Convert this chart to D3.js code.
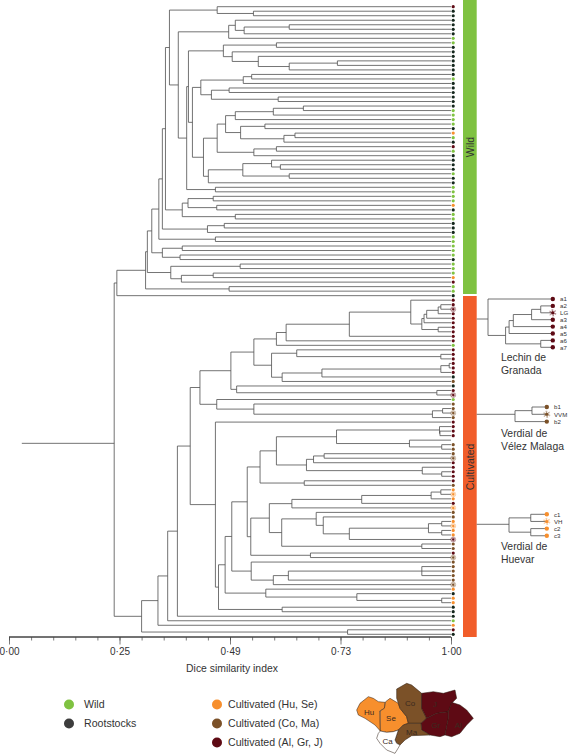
<!DOCTYPE html>
<html><head><meta charset="utf-8">
<script src="https://cdn.jsdelivr.net/npm/d3@7/dist/d3.min.js"></script>
<style>html,body{margin:0;padding:0;background:#fff}svg{display:block}text{font-family:"Liberation Sans",Arial,sans-serif;fill:#333}</style>
</head><body><svg id="c" width="571" height="755"></svg>
<script>
const K="K",W="W",O="O",B="B",M="M",N="N",Ms="M*",Bs="B*",Os="O*";
// Dendrogram: [similarity at merge, child, child...]; leaves are group codes (* = reference cultivar)
const wildTop=[.363,[.471,M,[.553,K,K]],[.383,[.497,[.512,K,[.532,[.634,K,K],K]],W],
 [.402,[.406,[.485,[.605,W,K],[.505,K,[.564,K,[.634,[.743,K,K],K]]]],
  [.415,[.434,[.530,[.549,K,W],K],[.458,[.498,K,K],[.609,K,K]]],
   [.440,[.471,[.490,[.512,[.598,[.666,K,W],W],W],[.524,[.579,W,K],[.622,[.647,O,W],K]]],[.554,[.605,M,W],K]],
    [.451,[.529,[.594,K,[.614,K,K]],[.634,W,K]],K]]]],[.467,W,W]]]];
const wild197=[.354,wildTop,[.392,[.405,[.462,W,W],[.470,O,K]],[.512,W,W]]];
const wild187=[.347,wild197,[.449,[.487,K,K],K]];
const wild177=[.339,wild187,[.467,W,W]];
const wild155=[.323,wild177,[.347,[.392,W,W],[.387,W,K]]];
const wild142=[.313,wild155,[.366,[.523,W,W],[.390,[.462,W,O],M]]];
const wild137=[.309,wild142,[.498,W,W]];
const wildClade=[.244,wild137,K];
const lechin=[.909,M,[.934,[.939,[.945,[.971,[.977,M,Ms],M],M],M],[.971,M,M]]];
const cult559=[.627,[.770,lechin,M],M];
const cult462=[.554,[.605,cult559,W],[.594,[.651,M,[.977,M,M]],[.618,[.708,[.977,[.996,M,M],M],K],B]]];
const cult392=[.502,cult462,[.515,K,[.968,M,Ms]]];
const cult300=[.432,cult392,[.470,W,[.554,B,[.958,[.981,B,Bs],B]]]];
const cult480=[.568,[.605,[.741,[.974,M,[.975,M,M]],[.906,N,[.979,B,B]]],
 [.673,[.689,[.713,B,Bs],M],[.935,M,[.979,M,M]]]],[.668,M,B]];
const cult575=[.640,[.798,[.955,[.977,O,Os],O],M],Os];
const cult545=[.617,[.695,B,[.711,B,[.770,[.949,[.979,O,Os],[.979,O,O]],Ms]]],[.934,B,B]];
const cult452=[.547,[.589,cult575,cult545],[.682,M,Bs]];
const cult454=[.548,B,[.598,[.632,[.934,B,B,B],B],Bs]];
const cult375=[.489,[.504,[.539,cult480,cult452],cult454],[.581,O,[.787,K,[.979,O,O]]]];
const cult346=[.467,M,[.474,cult375,[.618,K,K]]];
const cultClade=[.300,[.337,[.359,[.381,[.410,cult300,cult346],K],W],O],[.766,M,K]];
const rootTree=[.238,wildClade,cultClade];
const rootStemStart=.029;
const rootStemRowShift=-1.4;

const insetLechin=[.909,"a1",[.934,[.939,[.945,[.971,[.984,"a2","LG"],"a3"],"a4"],"a5"],[.984,"a6","a7"]]];
const insetVelez=[.958,[.981,"b1","VVM"],"b2"];
const insetHuevar=[.949,[.979,"c1","VH"],[.979,"c2","c3"]];
const insetColors={a:"#5e0a14",b:"#7b5128",c:"#f78f2d"};
const insetStars=["LG","VVM","VH"];

const groupColor={K:"#14261c",W:"#7fc241",O:"#f78f2d",B:"#7b5128",M:"#5e0a14"};
const majorTicks=[0,.25,.5,.75,1];
const majorLabels=["0·00","0·25","0·49","0·73","1·00"];
const minorTicks=d3.range(0,1.001,.05);
const legendLeft=[["Wild","#7fc241"],["Rootstocks","#3d3d3d"]];
const legendRight=[["Cultivated (Hu, Se)","#f78f2d"],["Cultivated (Co, Ma)","#7b5128"],["Cultivated (Al, Gr, J)","#5e0a14"]];
const orange="#f78f2d",brown="#7b5128",maroon="#5e0a14";
const regions=[
 ["Hu",orange,[[35,105],[45,85],[70,65],[85,70],[100,80],[120,82],[118,100],[104,108],[106,168],[90,150],[60,130],[40,120]],72,112],
 ["Se",orange,[[106,108],[118,100],[122,80],[135,70],[160,85],[165,100],[185,125],[190,145],[175,150],[160,165],[145,170],[125,172],[106,168]],138,130],
 ["Co",brown,[[155,42],[185,25],[200,30],[230,55],[230,100],[245,130],[228,145],[190,145],[185,125],[165,100],[160,85],[155,70]],195,85],
 ["J",maroon,[[230,55],[265,50],[295,55],[330,45],[335,70],[320,85],[310,110],[275,115],[245,130],[230,100]],270,88],
 ["Gr",maroon,[[245,130],[275,115],[310,110],[310,130],[300,180],[285,185],[255,180],[230,165],[228,145]],272,152],
 ["Al",maroon,[[320,82],[345,90],[365,105],[385,130],[365,150],[345,175],[320,185],[300,180],[310,130],[310,110]],340,152],
 ["Ma",brown,[[228,145],[230,165],[255,180],[200,182],[180,195],[165,210],[155,205],[150,195],[160,165],[175,150],[190,145]],200,172],
 ["Ca","#fff",[[100,175],[106,168],[125,172],[145,170],[160,165],[150,195],[155,205],[165,210],[150,235],[125,225],[105,205],[95,190]],128,200]
];

const svg=d3.select("#c");
const x=d3.scaleLinear().domain([0,1]).range([9,451]);
const line="#4f4f4f",lw=.8;

function build(tree){
  const h=d3.hierarchy(tree,d=>Array.isArray(d)?d.slice(1):null);
  h.leaves().forEach((l,i)=>l.idx=i);
  h.eachAfter(n=>{ if(n.children) n.pos=(n.children[0].pos+n.children[n.children.length-1].pos)/2; else n.pos=n.idx; n.v=n.children?n.data[0]:1; });
  return h;
}
function drawTree(h,xs,ys,g){
  const p=d3.path();
  h.each(n=>{
    if(!n.children) return;
    const a=n.children[0],b=n.children[n.children.length-1];
    p.moveTo(xs(n.v),ys(a.pos));p.lineTo(xs(n.v),ys(b.pos));
    n.children.forEach(c=>{p.moveTo(xs(n.v),ys(c.pos));p.lineTo(xs(c.v),ys(c.pos));});
  });
  g.append("path").attr("d",p.toString()).attr("fill","none").attr("stroke",line).attr("stroke-width",lw);
}
function star(g,cx,cy,color,size,big){
  if(!big) g.append("circle").attr("cx",cx).attr("cy",cy).attr("r",2.6).attr("fill",color).attr("fill-opacity",.18).attr("stroke",color).attr("stroke-opacity",.6).attr("stroke-width",.4);
  [0,45].forEach(r=>g.append("path").attr("d",d3.symbol().type(d3.symbolAsterisk).size(size)()).attr("transform",`translate(${cx},${cy}) rotate(${r})`).attr("fill","none").attr("stroke",color).attr("stroke-opacity",big?.8:.5).attr("stroke-width",.5));
  g.append("circle").attr("cx",cx).attr("cy",cy).attr("r",big?1.5:1).attr("fill",color);
}

// main tree
const mainTree=build(rootTree);
const leaves=mainTree.leaves();
const y=d3.scaleLinear().domain([0,leaves.length-1]).range([6.7,634.3]);
const gTree=svg.append("g");
drawTree(mainTree,x,y,gTree);
const stemY=y(mainTree.pos+rootStemRowShift);
gTree.append("line").attr("x1",x(rootStemStart)).attr("x2",x(mainTree.v)).attr("y1",stemY).attr("y2",stemY).attr("stroke",line).attr("stroke-width",lw);
const markX=x(1)+2.2;
leaves.forEach(l=>{
  const code=l.data; if(code===N) return;
  const c=groupColor[code[0]];
  if(code.endsWith("*")) star(gTree,markX,y(l.pos),c,14,false);
  else gTree.append("circle").attr("cx",markX).attr("cy",y(l.pos)).attr("r",1.6).attr("fill",c);
});

// bars
const barX=463,barW=13.7;
svg.append("rect").attr("x",barX).attr("y",0).attr("width",barW).attr("height",294).attr("fill","#7fc241");
svg.append("rect").attr("x",barX).attr("y",296).attr("width",barW).attr("height",341).attr("fill","#f15d2a");
[["Wild",147],["Cultivated",467]].forEach(([t,cy])=>svg.append("text").attr("transform",`translate(473.5,${cy}) rotate(-90)`).attr("text-anchor","middle").attr("font-size",10.5).text(t));

// axis
const gAxis=svg.append("g").attr("transform","translate(0,637)");
gAxis.call(d3.axisBottom(x).tickValues(minorTicks).tickSize(3.5).tickFormat(""));
gAxis.append("g").call(d3.axisBottom(x).tickValues(majorTicks).tickSize(7.5).tickFormat((d,i)=>majorLabels[i]));
gAxis.selectAll(".domain").attr("stroke","#444").attr("d",`M${x(0)},0H${x(1)}`);
gAxis.selectAll(".tick line").attr("stroke","#444").attr("stroke-width",.7);
gAxis.selectAll("text").attr("font-size",10).attr("y",11).attr("dy",".71em");
svg.append("text").attr("x",232).attr("y",672).attr("text-anchor","middle").attr("font-size",10.4).text("Dice similarity index");

// insets
function inset(tree,x0,x1,yTop,step,labelX,colorKey,stem){
  const h=build(tree);
  const xs=d3.scaleLinear().domain([h.v,1]).range([x0,x1]);
  const ys=d=>yTop+d*step;
  const g=svg.append("g");
  drawTree(h,xs,ys,g);
  g.append("line").attr("x1",barX+barW).attr("x2",x0).attr("y1",stem).attr("y2",stem).attr("stroke",line).attr("stroke-width",lw);
  h.leaves().forEach(l=>{
    const c=insetColors[colorKey],cy=ys(l.pos);
    if(insetStars.includes(l.data)) star(g,x1+.8,cy,c,36,true);
    else g.append("circle").attr("cx",x1+.8).attr("cy",cy).attr("r",2.2).attr("fill",c);
    g.append("text").attr("x",labelX).attr("y",cy+2.2).attr("font-size",6.1).text(l.data);
  });
}
inset(insetLechin,488,552,299,6.9,560,"a",319);
inset(insetVelez,515,546,407,7.3,554,"b",414.3);
inset(insetHuevar,509,546,514.3,7.15,554,"c",524.3);
[["Lechin de",361],["Granada",374],["Verdial de",436.7],["Vélez Malaga",450],["Verdial de",550],["Huevar",563]].forEach(([t,yy])=>
  svg.append("text").attr("x",501).attr("y",yy).attr("font-size",10.4).text(t));

// legend
legendLeft.forEach(([t,c],i)=>{
  const cy=704.5+i*19;
  svg.append("circle").attr("cx",69).attr("cy",cy).attr("r",5).attr("fill",c);
  svg.append("text").attr("x",84).attr("y",cy+3.6).attr("font-size",10.6).text(t);
});
legendRight.forEach(([t,c],i)=>{
  const cy=704.5+i*19;
  svg.append("circle").attr("cx",217).attr("cy",cy).attr("r",5).attr("fill",c);
  svg.append("text").attr("x",228).attr("y",cy+3.6).attr("font-size",10.6).text(t);
});

// map
const mx=d3.scaleLinear().domain([0,390]).range([345,475]);
const my=d3.scaleLinear().domain([0,240]).range([675,755]);
const mapLine=d3.line().x(d=>mx(d[0])).y(d=>my(d[1])).curve(d3.curveLinearClosed);
const gMap=svg.append("g");
regions.forEach(([name,fill,pts])=>gMap.append("path").attr("d",mapLine(pts)).attr("fill",fill).attr("stroke","#2a1a10").attr("stroke-width",.5));
regions.forEach(([name,fill,pts,lx,ly])=>gMap.append("text").attr("x",mx(lx)).attr("y",my(ly)+2.8).attr("text-anchor","middle").attr("font-size",8).style("fill","#3a2a20").text(name));
</script></body></html>
